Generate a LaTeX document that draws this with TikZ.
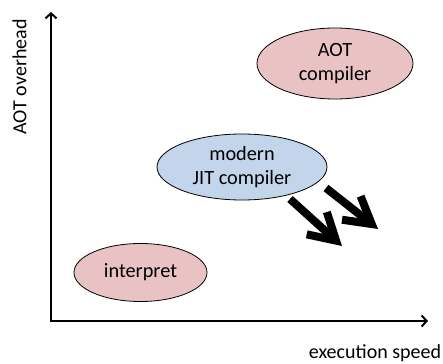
\documentclass[tikz,border=0pt]{standalone}
\usepackage{fontspec}
\setmainfont{Carlito}
\usetikzlibrary{arrows.meta,shapes.geometric}
\definecolor{pinkfill}{HTML}{E9C3C3}
\definecolor{bluefill}{HTML}{C3D5EA}
\begin{document}
\begin{tikzpicture}[x=1pt,y=-1pt,
  blob/.style={ellipse, draw=black, line width=0.8pt, inner sep=0pt,
    align=center, font=\fontsize{20.3}{24}\selectfont},
  axislabel/.style={font=\fontsize{20}{24}\selectfont, inner sep=0pt},
  axis/.style={line width=2pt,
    {Straight Barb[length=5pt,width=11pt]}-{Straight Barb[length=5pt,width=11pt]}},
  bigarrow/.style={line width=8pt, line cap=butt,
    -{Straight Barb[length=26pt,width=30pt]}}]
\useasboundingbox (0,0) rectangle (443,363);

% axes
\coordinate (ytop) at (51,12);
\coordinate (origin) at (51,321);
\coordinate (xend) at (428,321);
\draw[axis] (ytop) -- (origin) -- (xend);

\node[axislabel, rotate=90] (ylab) at (19.5,77) {AOT overhead};
\node[axislabel] (xlab) at (375,353) {execution speed};

% approaches
\node[blob, fill=pinkfill, minimum width=156pt, minimum height=71pt] (aot) at (335,63.5) {AOT\\compiler};
\node[blob, fill=bluefill, minimum width=170pt, minimum height=66pt] (jit) at (242,167) {modern\\JIT compiler};
\node[blob, fill=pinkfill, minimum width=133pt, minimum height=58pt] (interp) at (140.5,272.5) {interpret};

% trend arrows
\coordinate (a1s) at (290,199);
\coordinate (a1e) at (342,246);
\coordinate (a2s) at (326,188);
\coordinate (a2e) at (378,229);
\draw[bigarrow] (a1s) -- (a1e);
\draw[bigarrow] (a2s) -- (a2e);
\end{tikzpicture}
\end{document}
